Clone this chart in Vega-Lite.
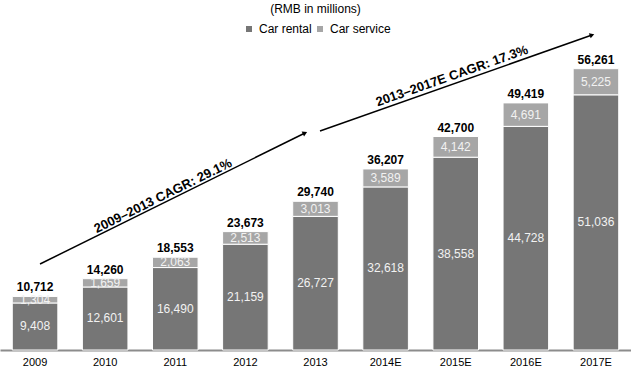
{
  "$schema": "https://vega.github.io/schema/vega-lite/v6.json",
  "width": 631,
  "height": 310,
  "autosize": {"type": "none"},
  "padding": {"top": 40, "bottom": 23, "left": 0, "right": 0},
  "background": "white",
  "title": {"text": "(RMB in millions)", "fontSize": 12, "fontWeight": "normal", "anchor": "middle", "offset": 7, "color": "#000000"},
  "config": {
    "font": "Liberation Sans",
    "view": {"stroke": null},
    "axis": {"grid": false}
  },
  "datasets": {
    "segments": [
      {"year": "2009", "type": "Car rental", "amount": 9408, "ord": 1},
      {"year": "2009", "type": "Car service", "amount": 1304, "ord": 2},
      {"year": "2010", "type": "Car rental", "amount": 12601, "ord": 1},
      {"year": "2010", "type": "Car service", "amount": 1659, "ord": 2},
      {"year": "2011", "type": "Car rental", "amount": 16490, "ord": 1},
      {"year": "2011", "type": "Car service", "amount": 2063, "ord": 2},
      {"year": "2012", "type": "Car rental", "amount": 21159, "ord": 1},
      {"year": "2012", "type": "Car service", "amount": 2513, "ord": 2},
      {"year": "2013", "type": "Car rental", "amount": 26727, "ord": 1},
      {"year": "2013", "type": "Car service", "amount": 3013, "ord": 2},
      {"year": "2014E", "type": "Car rental", "amount": 32618, "ord": 1},
      {"year": "2014E", "type": "Car service", "amount": 3589, "ord": 2},
      {"year": "2015E", "type": "Car rental", "amount": 38558, "ord": 1},
      {"year": "2015E", "type": "Car service", "amount": 4142, "ord": 2},
      {"year": "2016E", "type": "Car rental", "amount": 44728, "ord": 1},
      {"year": "2016E", "type": "Car service", "amount": 4691, "ord": 2},
      {"year": "2017E", "type": "Car rental", "amount": 51036, "ord": 1},
      {"year": "2017E", "type": "Car service", "amount": 5225, "ord": 2}
    ],
    "totals": [
      {"year": "2009", "total": 10712},
      {"year": "2010", "total": 14260},
      {"year": "2011", "total": 18553},
      {"year": "2012", "total": 23673},
      {"year": "2013", "total": 29740},
      {"year": "2014E", "total": 36207},
      {"year": "2015E", "total": 42700},
      {"year": "2016E", "total": 49419},
      {"year": "2017E", "total": 56261}
    ],
    "arrows": [
      {"id": "a", "x": 0.571, "y": 17200, "x2": 4.35, "y2": 43400},
      {"id": "b", "x": 4.564, "y": 43800, "x2": 8.444, "y2": 63000}
    ],
    "cagr": [
      {"id": "a", "x": 2.325, "y": 30800, "label": "2009–2013 CAGR: 29.1%"},
      {"id": "b", "x": 6.447, "y": 54800, "label": "2013–2017E CAGR: 17.3%"}
    ]
  },
  "resolve": {"scale": {"x": "independent"}},
  "layer": [
    {
      "layer": [
        {
          "data": {"name": "segments"},
          "mark": {"type": "bar", "stroke": "white", "strokeWidth": 1},
          "encoding": {
            "x": {"field": "year", "type": "nominal", "scale": {"paddingInner": 0.35, "paddingOuter": 0.175},
              "axis": {"title": null, "labelAngle": 0, "ticks": false, "domainColor": "#8c8c8c", "domainWidth": 2, "labelFontSize": 11, "labelColor": "#000000", "labelPadding": 6}},
            "y": {"field": "amount", "type": "quantitative", "stack": "zero", "scale": {"domain": [0, 62000], "nice": false}, "axis": null},
            "order": {"field": "ord", "type": "quantitative"},
            "color": {"field": "type", "type": "nominal",
              "scale": {"domain": ["Car rental", "Car service"], "range": ["#767676", "#a6a6a6"]},
              "legend": {"title": null, "orient": "none", "legendX": 243, "legendY": -17, "direction": "horizontal", "symbolType": "square", "symbolSize": 36, "symbolStrokeWidth": 0, "labelFontSize": 12, "labelColor": "#000000", "columnPadding": 2, "labelOffset": 4}}
          }
        },
        {
          "data": {"name": "segments"},
          "transform": [
            {"stack": "amount", "groupby": ["year"], "sort": [{"field": "ord"}], "as": ["lo", "hi"]},
            {"fold": ["lo", "hi"], "as": ["k", "pos"]},
            {"aggregate": [{"op": "mean", "field": "pos", "as": "mid"}], "groupby": ["year", "type", "amount"]}
          ],
          "mark": {"type": "text", "fontSize": 12, "color": "#f2f2f2", "baseline": "middle", "align": "center"},
          "encoding": {
            "x": {"field": "year", "type": "nominal"},
            "y": {"field": "mid", "type": "quantitative", "scale": {"domain": [0, 62000], "nice": false}},
            "text": {"field": "amount", "type": "quantitative", "format": ",d"}
          }
        },
        {
          "data": {"name": "totals"},
          "mark": {"type": "text", "fontSize": 12, "fontWeight": "bold", "color": "#000000", "baseline": "alphabetic", "align": "center", "dy": -5},
          "encoding": {
            "x": {"field": "year", "type": "nominal"},
            "y": {"field": "total", "type": "quantitative", "scale": {"domain": [0, 62000], "nice": false}},
            "text": {"field": "total", "type": "quantitative", "format": ",d"}
          }
        }
      ]
    },
    {
      "resolve": {"scale": {"angle": "independent"}},
      "layer": [
        {
          "data": {"name": "arrows"},
          "mark": {"type": "rule", "color": "#000000", "strokeWidth": 1.5},
          "encoding": {
            "x": {"field": "x", "type": "quantitative", "scale": {"domain": [0, 9], "nice": false, "zero": false}, "axis": null},
            "y": {"field": "y", "type": "quantitative", "scale": {"domain": [0, 62000], "nice": false}},
            "x2": {"field": "x2"},
            "y2": {"field": "y2"}
          }
        },
        {
          "data": {"name": "arrows"},
          "mark": {"type": "point", "shape": "triangle-up", "filled": true, "color": "#000000", "size": 30, "opacity": 1},
          "encoding": {
            "x": {"field": "x2", "type": "quantitative"},
            "y": {"field": "y2", "type": "quantitative", "scale": {"domain": [0, 62000], "nice": false}},
            "angle": {"field": "id", "type": "nominal", "scale": {"domain": ["a", "b"], "range": [63.7, 70.6]}, "legend": null}
          }
        },
        {
          "data": {"name": "cagr"},
          "mark": {"type": "text", "fontSize": 13, "fontWeight": "bold", "color": "#000000", "align": "center", "baseline": "middle"},
          "encoding": {
            "x": {"field": "x", "type": "quantitative"},
            "y": {"field": "y", "type": "quantitative", "scale": {"domain": [0, 62000], "nice": false}},
            "text": {"field": "label"},
            "angle": {"field": "id", "type": "nominal", "scale": {"domain": ["a", "b"], "range": [333.7, 340.6]}, "legend": null}
          }
        }
      ]
    }
  ]
}
